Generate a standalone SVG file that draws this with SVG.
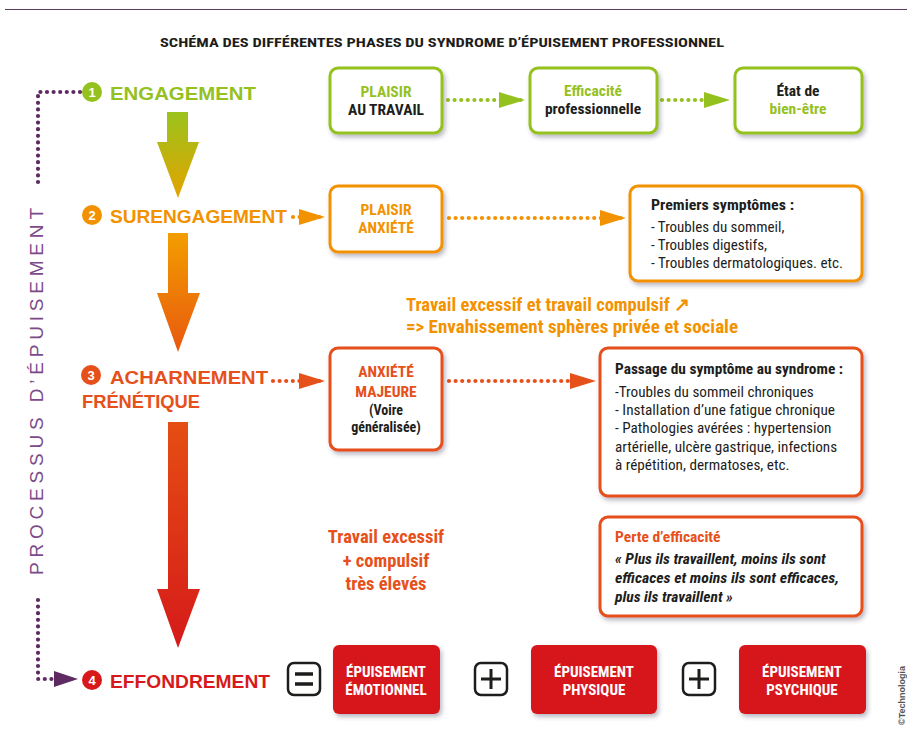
<svg xmlns="http://www.w3.org/2000/svg" width="907" height="733" viewBox="0 0 907 733">
<style>
.c{font-family:"Roboto Condensed","Liberation Sans Narrow","Liberation Sans",sans-serif;font-weight:bold}
.n{font-family:"Roboto Condensed","Liberation Sans Narrow","Liberation Sans",sans-serif;font-weight:normal}
.ph{font-family:"Liberation Sans","Noto Sans",sans-serif;font-weight:bold;font-size:19px}
.box{fill:#fff;stroke-width:3}
.g{fill:#95c11f}.o{fill:#f39200}.r{fill:#e6501b}.d{fill:#d7191c}.k{fill:#1d1d1b}.w{fill:#fff}
.dot{fill:none;stroke-width:4.2;stroke-linecap:round;stroke-dasharray:0 6.6}
.num{font-family:"Liberation Sans",sans-serif;font-weight:bold;font-size:13px;fill:#fff;text-anchor:middle}
.mid{text-anchor:middle}
</style>
<defs>
<filter id="sh" x="-20%" y="-20%" width="140%" height="150%"><feDropShadow dx="2" dy="3" stdDeviation="2" flood-color="#3a3a5a" flood-opacity="0.35"/></filter>
<linearGradient id="a1" x1="0" y1="0" x2="0" y2="1"><stop offset="0" stop-color="#9bc31c"/><stop offset="1" stop-color="#e3a300"/></linearGradient>
<linearGradient id="a2" x1="0" y1="0" x2="0" y2="1"><stop offset="0" stop-color="#f39e00"/><stop offset="1" stop-color="#e8580e"/></linearGradient>
<linearGradient id="a3" x1="0" y1="0" x2="0" y2="1"><stop offset="0" stop-color="#e54e13"/><stop offset="1" stop-color="#d51a1a"/></linearGradient>
<marker id="mg" markerUnits="userSpaceOnUse" markerWidth="26" markerHeight="18" refX="22" refY="9" orient="auto"><path d="M0,1 L26,9 L0,17 Z" fill="#95c11f"/></marker>
<marker id="mo" markerUnits="userSpaceOnUse" markerWidth="26" markerHeight="18" refX="22" refY="9" orient="auto"><path d="M0,1 L26,9 L0,17 Z" fill="#f39200"/></marker>
<marker id="mr" markerUnits="userSpaceOnUse" markerWidth="26" markerHeight="18" refX="22" refY="9" orient="auto"><path d="M0,1 L26,9 L0,17 Z" fill="#e6501b"/></marker>
<marker id="mp" markerUnits="userSpaceOnUse" markerWidth="24" markerHeight="18" refX="20" refY="9" orient="auto"><path d="M0,1 L24,9 L0,17 Z" fill="#5f2a62"/></marker>
</defs>
<rect width="907" height="733" fill="#fff"/>
<line x1="5" y1="9.5" x2="907" y2="9.5" stroke="#5f3a62" stroke-width="1.2"/>
<text class="c k" x="160" y="47" font-size="13.5" textLength="564" lengthAdjust="spacingAndGlyphs">SCHÉMA DES DIFFÉRENTES PHASES DU SYNDROME D’ÉPUISEMENT PROFESSIONNEL</text>

<g id="processus">
<text transform="translate(43,575) rotate(-90)" font-family="Liberation Sans, Noto Sans, sans-serif" font-size="19" fill="#7c4a89" textLength="367" lengthAdjust="spacing">PROCESSUS D’ÉPUISEMENT</text>
</g>

<g id="big-arrows">
<path d="M167,112 H188 V142 H199 L178,198 L157,142 H167 Z" fill="url(#a1)"/>
<path d="M168,233 H188 V293 H200 L178,352 L157,293 H168 Z" fill="url(#a2)"/>
<path d="M168,422 H188 V589 H200 L178,648 L157,589 H168 Z" fill="url(#a3)"/>
</g>

<g id="connectors">
<path class="dot" d="M80,92 H38 V188" stroke="#5f2a62"/>
<path class="dot" d="M38,600 V679 H74" stroke="#5f2a62" marker-end="url(#mp)"/>
<path class="dot" d="M448,100 H521" stroke="#95c11f" marker-end="url(#mg)"/>
<path class="dot" d="M662,100 H726" stroke="#95c11f" marker-end="url(#mg)"/>
<path class="dot" d="M293,217 H321" stroke="#f39200" marker-end="url(#mo)"/>
<path class="dot" d="M449,218 H622" stroke="#f39200" marker-end="url(#mo)"/>
<path class="dot" d="M273,381 H321" stroke="#e6501b" marker-end="url(#mr)"/>
<path class="dot" d="M449,381 H592" stroke="#e6501b" marker-end="url(#mr)"/>
</g>

<g id="phase1">
<circle cx="92" cy="92" r="10" fill="#95c11f"/><text class="num" x="92" y="97">1</text>
<text class="ph g" x="110" y="100" textLength="146" lengthAdjust="spacingAndGlyphs">ENGAGEMENT</text>
</g>
<g id="phase2">
<circle cx="92" cy="215" r="10" fill="#f39200"/><text class="num" x="92" y="220">2</text>
<text class="ph o" x="110" y="223" textLength="177" lengthAdjust="spacingAndGlyphs">SURENGAGEMENT</text>
</g>
<g id="phase3">
<circle cx="91" cy="375" r="10" fill="#e6501b"/><text class="num" x="91" y="380">3</text>
<text class="ph r" x="110" y="384" textLength="158" lengthAdjust="spacingAndGlyphs">ACHARNEMENT</text>
<text class="ph r" x="82" y="407.5" textLength="118" lengthAdjust="spacingAndGlyphs">FRÉNÉTIQUE</text>
</g>
<g id="phase4">
<circle cx="92" cy="680" r="10" fill="#d7191c"/><text class="num" x="92" y="685">4</text>
<text class="ph d" x="110" y="688" textLength="160" lengthAdjust="spacingAndGlyphs">EFFONDREMENT</text>
</g>

<g id="plaisir-travail">
<rect class="box" x="330" y="68" width="112" height="65" rx="8" stroke="#95c11f" filter="url(#sh)"/>
<text class="c g mid" x="386" y="97" font-size="15.5">PLAISIR</text>
<text class="c k mid" x="386" y="115" font-size="15.5">AU TRAVAIL</text>
</g>
<g id="efficacite">
<rect class="box" x="530" y="68" width="127" height="65" rx="8" stroke="#95c11f" filter="url(#sh)"/>
<text class="c g mid" x="593" y="96" font-size="15.5">Efficacité</text>
<text class="c k mid" x="593" y="114" font-size="15.5">professionnelle</text>
</g>
<g id="bien-etre">
<rect class="box" x="735" y="68" width="127" height="65" rx="8" stroke="#95c11f" filter="url(#sh)"/>
<text class="c k mid" x="798" y="96" font-size="15.5">État de</text>
<text class="c g mid" x="798" y="114" font-size="15.5">bien-être</text>
</g>

<g id="plaisir-anxiete">
<rect class="box" x="330" y="186" width="112" height="66" rx="8" stroke="#f39200" filter="url(#sh)"/>
<text class="c o mid" x="386" y="215" font-size="15.5">PLAISIR</text>
<text class="c o mid" x="386" y="233" font-size="15.5">ANXIÉTÉ</text>
</g>
<g id="premiers-symptomes">
<rect class="box" x="630" y="186" width="232" height="95" rx="8" stroke="#f39200" filter="url(#sh)"/>
<text class="c k" x="651" y="210" font-size="15.5" textLength="143" lengthAdjust="spacingAndGlyphs">Premiers symptômes :</text>
<text class="n k" x="651" y="232" font-size="15">- Troubles du sommeil,</text>
<text class="n k" x="651" y="250" font-size="15">- Troubles digestifs,</text>
<text class="n k" x="651" y="268" font-size="15" textLength="192" lengthAdjust="spacingAndGlyphs">- Troubles dermatologiques. etc.</text>
</g>

<g id="travail-excessif-1">
<text class="c o" x="406" y="311" font-size="18.5" textLength="284" lengthAdjust="spacingAndGlyphs">Travail excessif et travail compulsif ↗</text>
<text class="c o" x="406" y="333" font-size="18.5" textLength="332" lengthAdjust="spacingAndGlyphs">=&gt; Envahissement sphères privée et sociale</text>
</g>

<g id="anxiete-majeure">
<rect class="box" x="330" y="348" width="112" height="102" rx="8" stroke="#e6501b" filter="url(#sh)"/>
<text class="c r mid" x="386" y="377" font-size="15.5">ANXIÉTÉ</text>
<text class="c r mid" x="386" y="397" font-size="15.5">MAJEURE</text>
<text class="c k mid" x="386" y="415" font-size="14">(Voire</text>
<text class="c k mid" x="386" y="432" font-size="14">généralisée)</text>
</g>
<g id="passage">
<rect class="box" x="600" y="348" width="262" height="148" rx="8" stroke="#e6501b" filter="url(#sh)"/>
<text class="c k" x="615" y="374" font-size="15" textLength="228" lengthAdjust="spacingAndGlyphs">Passage du symptôme au syndrome :</text>
<text class="n k" x="615" y="397" font-size="15.2">-Troubles du sommeil chroniques</text>
<text class="n k" x="615" y="415" font-size="15.2" textLength="220" lengthAdjust="spacingAndGlyphs">- Installation d’une fatigue chronique</text>
<text class="n k" x="615" y="433" font-size="15.2">- Pathologies avérées : hypertension</text>
<text class="n k" x="615" y="452" font-size="15.2">artérielle, ulcère gastrique, infections</text>
<text class="n k" x="615" y="470" font-size="15.2">à répétition, dermatoses,  etc.</text>
</g>
<g id="perte-efficacite">
<rect class="box" x="600" y="517" width="262" height="99" rx="8" stroke="#e6501b" filter="url(#sh)"/>
<text class="c r" x="615" y="542" font-size="15.5">Perte d’efficacité</text>
<text class="c k" x="615" y="564" font-size="15.5" font-style="italic">« Plus ils travaillent, moins ils sont</text>
<text class="c k" x="615" y="583" font-size="15.5" font-style="italic" textLength="224" lengthAdjust="spacingAndGlyphs">efficaces et moins ils sont efficaces,</text>
<text class="c k" x="615" y="602" font-size="15.5" font-style="italic">plus ils travaillent »</text>
</g>
<g id="travail-excessif-2">
<text class="c r mid" x="386" y="543" font-size="18.5">Travail excessif</text>
<text class="c r mid" x="386" y="567" font-size="18.5">+ compulsif</text>
<text class="c r mid" x="386" y="590" font-size="18.5">très élevés</text>
</g>

<g id="egal">
<rect x="288" y="663" width="32" height="32" rx="6" fill="#fff" stroke="#1d1d1b" stroke-width="2.5"/>
<path d="M295,674 H313 M295,684 H313" stroke="#1d1d1b" stroke-width="3.5"/>
</g>
<g id="epuisement-emotionnel">
<rect x="333" y="645" width="107" height="69" rx="6" fill="#d7191c" filter="url(#sh)"/>
<text class="c w mid" x="386" y="677" font-size="15">ÉPUISEMENT</text>
<text class="c w mid" x="386" y="695" font-size="15">ÉMOTIONNEL</text>
</g>
<g id="plus1">
<rect x="475" y="663" width="32" height="32" rx="6" fill="#fff" stroke="#1d1d1b" stroke-width="2.5"/>
<path d="M481,679 H501 M491,669 V689" stroke="#1d1d1b" stroke-width="3"/>
</g>
<g id="epuisement-physique">
<rect x="531" y="645" width="126" height="69" rx="6" fill="#d7191c" filter="url(#sh)"/>
<text class="c w mid" x="594" y="677" font-size="15">ÉPUISEMENT</text>
<text class="c w mid" x="594" y="695" font-size="15">PHYSIQUE</text>
</g>
<g id="plus2">
<rect x="683" y="663" width="32" height="32" rx="6" fill="#fff" stroke="#1d1d1b" stroke-width="2.5"/>
<path d="M689,679 H709 M699,669 V689" stroke="#1d1d1b" stroke-width="3"/>
</g>
<g id="epuisement-psychique">
<rect x="739" y="645" width="127" height="69" rx="6" fill="#d7191c" filter="url(#sh)"/>
<text class="c w mid" x="802" y="677" font-size="15">ÉPUISEMENT</text>
<text class="c w mid" x="802" y="695" font-size="15">PSYCHIQUE</text>
</g>
<text transform="translate(905,725) rotate(-90)" font-family="Liberation Sans, sans-serif" font-weight="bold" font-size="9" fill="#555">©Technologia</text>
</svg>
